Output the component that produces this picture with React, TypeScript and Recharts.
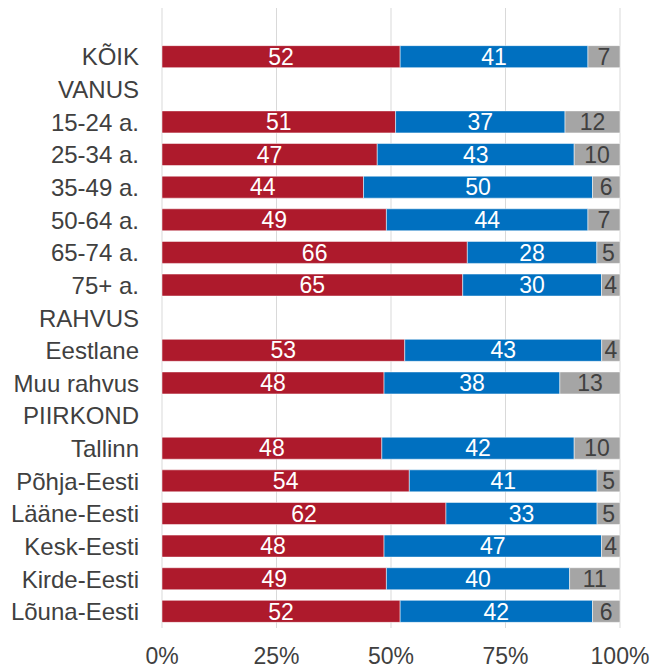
import { BarChart, Bar, XAxis, YAxis, CartesianGrid, LabelList } from "recharts";

// first row is blank on purpose: the plot has an empty band above "KÕIK"
const categories = [
  "", "KÕIK", "VANUS", "15-24 a.", "25-34 a.", "35-49 a.", "50-64 a.", "65-74 a.", "75+ a.",
  "RAHVUS", "Eestlane", "Muu rahvus", "PIIRKOND", "Tallinn", "Põhja-Eesti", "Lääne-Eesti",
  "Kesk-Eesti", "Kirde-Eesti", "Lõuna-Eesti",
];
const poolt = [null, 52, null, 51, 47, 44, 49, 66, 65, null, 53, 48, null, 48, 54, 62, 48, 49, 52];
const vastu = [null, 41, null, 37, 43, 50, 44, 28, 30, null, 43, 38, null, 42, 41, 33, 47, 40, 42];
const eiOska = [null, 7, null, 12, 10, 6, 7, 5, 4, null, 4, 13, null, 10, 5, 5, 4, 11, 6];
const xTicks = [0, 0.25, 0.5, 0.75, 1];

const data = categories.map((name, i) => ({ name, poolt: poolt[i], vastu: vastu[i], eiOska: eiOska[i] }));

const FONT = "'Liberation Sans', Arial, sans-serif";

export default function App() {
  return (
    <div style={{ position: "absolute", left: 0, top: 0, fontFamily: FONT }}>
      <BarChart
        width={653}
        height={669}
        data={data}
        layout="vertical"
        stackOffset="expand"
        barSize={22}
        margin={{ top: 8, right: 33, bottom: 0, left: 0 }}
      >
        <CartesianGrid horizontal={false} stroke="#d9d9d9" />
        <XAxis
          type="number"
          domain={[0, 1]}
          ticks={xTicks}
          tickFormatter={(v: number) => `${Math.round(v * 100)}%`}
          axisLine={false}
          tickLine={false}
          tickSize={0}
          tickMargin={20}
          height={41}
          interval={0}
          tick={{ fill: "#404040", fontSize: 23, fontFamily: FONT }}
        />
        <YAxis
          type="category"
          dataKey="name"
          width={162}
          axisLine={false}
          tickLine={false}
          tickSize={0}
          tickMargin={23}
          interval={0}
          tick={{ fill: "#404040", fontSize: 24, fontFamily: FONT }}
        />
        <Bar dataKey="poolt" stackId="a" fill="#ae1a2c" stroke="#ffffff" strokeWidth={0.5} isAnimationActive={false}>
          <LabelList dataKey="poolt" position="center" fill="#ffffff" fontSize={23} fontFamily={FONT} />
        </Bar>
        <Bar dataKey="vastu" stackId="a" fill="#0070c0" stroke="#ffffff" strokeWidth={0.5} isAnimationActive={false}>
          <LabelList dataKey="vastu" position="center" fill="#ffffff" fontSize={23} fontFamily={FONT} />
        </Bar>
        <Bar dataKey="eiOska" stackId="a" fill="#a5a5a5" stroke="#ffffff" strokeWidth={0.5} isAnimationActive={false}>
          <LabelList dataKey="eiOska" position="center" fill="#404040" fontSize={23} fontFamily={FONT} />
        </Bar>
      </BarChart>
    </div>
  );
}
